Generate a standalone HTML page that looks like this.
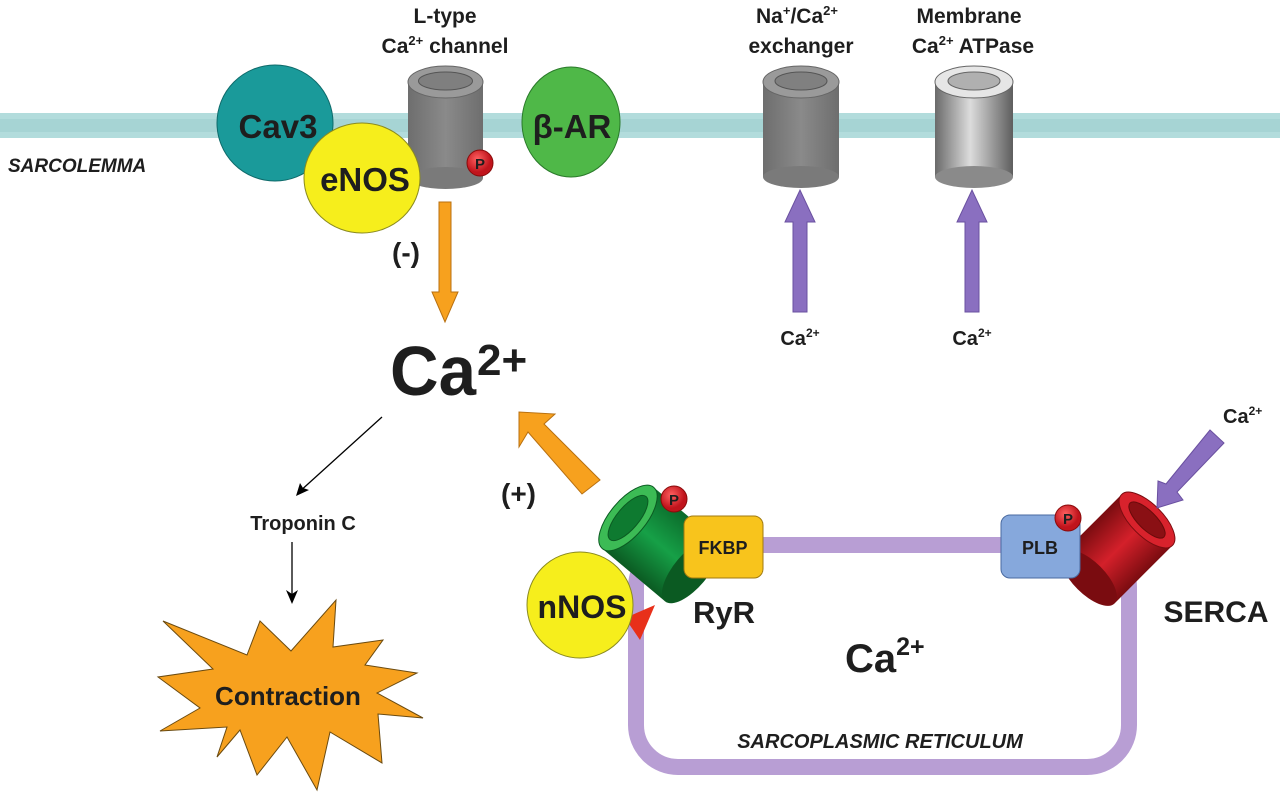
<!DOCTYPE html>
<html><head><meta charset="utf-8"><style>html,body{margin:0;padding:0;background:#fff}svg{display:block}text{font-family:"Liberation Sans",Arial,sans-serif;font-weight:bold;fill:#1e1e1e}</style></head><body>
<svg width="1280" height="796" viewBox="0 0 1280 796" xmlns="http://www.w3.org/2000/svg">
<defs>
<linearGradient id="gray" x1="0" x2="1"><stop offset="0" stop-color="#6e6e6e"/><stop offset="0.5" stop-color="#8a8a8a"/><stop offset="1" stop-color="#6e6e6e"/></linearGradient>
<linearGradient id="gray2" x1="0" x2="1"><stop offset="0" stop-color="#6a6a6a"/><stop offset="0.45" stop-color="#dcdcdc"/><stop offset="1" stop-color="#5e5e5e"/></linearGradient>
<linearGradient id="red" x1="0" y1="0" x2="0" y2="1"><stop offset="0" stop-color="#7a0c10"/><stop offset="0.5" stop-color="#d4202a"/><stop offset="1" stop-color="#7a0c10"/></linearGradient>
<linearGradient id="green" x1="0" y1="0" x2="0" y2="1"><stop offset="0" stop-color="#0b6a2a"/><stop offset="0.5" stop-color="#16a047"/><stop offset="1" stop-color="#0b5a22"/></linearGradient>
<radialGradient id="pg" cx="0.4" cy="0.35"><stop offset="0" stop-color="#ff6060"/><stop offset="1" stop-color="#c0141c"/></radialGradient>
</defs>
<rect x="0" y="113" width="1280" height="25" fill="#b2dcdc"/>
<rect x="0" y="119" width="1280" height="13" fill="#a6d4d4"/>
<text x="8" y="172" font-size="19" font-style="italic">SARCOLEMMA</text>

<circle cx="275" cy="123" r="58" fill="#1a9a9a" stroke="#0e6a6a"/>
<text x="278" y="138" font-size="33" text-anchor="middle">Cav3</text>
<rect x="408" y="82" width="75" height="96" fill="url(#gray)"/>
<ellipse cx="445.5" cy="178" rx="37.5" ry="11" fill="#7a7a7a"/>
<ellipse cx="445.5" cy="82" rx="37.5" ry="16" fill="#9a9a9a" stroke="#666"/>
<ellipse cx="445.5" cy="81" rx="27" ry="9" fill="#7f7f7f" stroke="#555"/>
<circle cx="480" cy="163" r="13" fill="url(#pg)" stroke="#8a0a0a"/>
<text x="480" y="169" font-size="15" text-anchor="middle" font-weight="normal">P</text>
<ellipse cx="362" cy="178" rx="58" ry="55" fill="#f6ee1c" stroke="#8a8a20"/>
<text x="365" y="191" font-size="33" text-anchor="middle">eNOS</text>
<ellipse cx="571" cy="122" rx="49" ry="55" fill="#4fb848" stroke="#2a7a2a"/>
<text x="572" y="138" font-size="33" text-anchor="middle">β-AR</text>
<text x="445" y="23" font-size="21" text-anchor="middle">L-type</text>
<text x="445" y="53" font-size="21" text-anchor="middle">Ca<tspan font-size="13" dy="-8">2+</tspan><tspan dy="8"> channel</tspan></text>

<rect x="763" y="82" width="76" height="95" fill="url(#gray)"/>
<ellipse cx="801" cy="177" rx="38" ry="11" fill="#7a7a7a"/>
<ellipse cx="801" cy="82" rx="38" ry="16" fill="#9a9a9a" stroke="#666"/>
<ellipse cx="801" cy="81" rx="26" ry="9" fill="#808080" stroke="#555"/>
<text x="797" y="23" font-size="21" text-anchor="middle">Na<tspan font-size="13" dy="-8">+</tspan><tspan dy="8">/Ca</tspan><tspan font-size="13" dy="-8">2+</tspan></text>
<text x="801" y="53" font-size="21" text-anchor="middle">exchanger</text>
<rect x="935" y="82" width="78" height="95" fill="url(#gray2)"/>
<ellipse cx="974" cy="177" rx="39" ry="11" fill="#8a8a8a"/>
<ellipse cx="974" cy="82" rx="39" ry="16" fill="#e6e6e6" stroke="#666"/>
<ellipse cx="974" cy="81" rx="26" ry="9" fill="#b0b0b0" stroke="#666"/>
<text x="969" y="23" font-size="21" text-anchor="middle">Membrane</text>
<text x="973" y="53" font-size="21" text-anchor="middle">Ca<tspan font-size="13" dy="-8">2+</tspan><tspan dy="8"> ATPase</tspan></text>

<polygon points="793,312 807,312 807,222 815,222 800,190 785,222 793,222" fill="#8a6fc0" stroke="#6a50a0"/>
<polygon points="965,312 979,312 979,222 987,222 972,190 957,222 965,222" fill="#8a6fc0" stroke="#6a50a0"/>
<text x="800" y="345" font-size="20" text-anchor="middle">Ca<tspan font-size="12" dy="-8">2+</tspan></text>
<text x="972" y="345" font-size="20" text-anchor="middle">Ca<tspan font-size="12" dy="-8">2+</tspan></text>

<polygon points="439,202 451,202 451,292 458,292 445,322 432,292 439,292" fill="#f7a11e" stroke="#b87010"/>
<text x="392" y="262" font-size="28">(-)</text>

<text x="390" y="395" font-size="70" textLength="86" lengthAdjust="spacingAndGlyphs">Ca</text>
<text x="477" y="375" font-size="44">2+</text>

<line x1="382" y1="417" x2="298" y2="493" stroke="#000" stroke-width="1.3"/>
<polygon points="296,496 300,483 303,488 309,490" fill="#000"/>
<text x="303" y="530" font-size="20" text-anchor="middle">Troponin C</text>
<line x1="292" y1="542" x2="292" y2="600" stroke="#000" stroke-width="1.3"/>
<polygon points="292,604 286,590 292,594 298,590" fill="#000"/>

<polygon points="163,621 247,655 260,621 291,651 336,600 333,647 383,640 365,665 417,673 377,693 423,718 378,714 382,763 330,732 317,790 287,737 257,775 240,730 217,757 227,727 160,731 200,708 158,677 213,669" fill="#f7a11e" stroke="#6a4a10" stroke-width="1"/>
<text x="288" y="705" font-size="26" text-anchor="middle">Contraction</text>

<polygon points="600,480 582,494 528,432 519,447 519,412 555,414 544,424" fill="#f7a11e" stroke="#b87010"/>
<text x="501" y="503" font-size="28">(+)</text>

<rect x="636" y="545" width="493" height="222" rx="42" fill="none" stroke="#b89ed4" stroke-width="16"/>
<text x="880" y="748" font-size="20" font-style="italic" text-anchor="middle">SARCOPLASMIC RETICULUM</text>
<text x="845" y="672" font-size="40">Ca<tspan font-size="25" dy="-17">2+</tspan></text>

<g transform="translate(628,518) rotate(40)">
<rect x="0" y="-40" width="82" height="80" fill="url(#green)"/>
<ellipse cx="82" cy="0" rx="17" ry="40" fill="#0b5a22"/>
<ellipse cx="0" cy="0" rx="18" ry="40" fill="#3cbb55" stroke="#0b5a22"/>
<ellipse cx="0" cy="0" rx="11" ry="28" fill="#0e7a30" stroke="#0b5a22"/>
</g>
<polygon points="625,618 655,605 640,640" fill="#e8301a"/>
<circle cx="580" cy="605" r="53" fill="#f6ee1c" stroke="#8a8a20"/>
<text x="582" y="618" font-size="32" text-anchor="middle">nNOS</text>
<circle cx="674" cy="499" r="13" fill="url(#pg)" stroke="#8a0a0a"/>
<text x="674" y="505" font-size="15" text-anchor="middle" font-weight="normal">P</text>
<rect x="684" y="516" width="79" height="62" rx="9" fill="#f8c41c" stroke="#a07a10"/>
<text x="723" y="554" font-size="18" text-anchor="middle">FKBP</text>
<text x="724" y="623" font-size="31" text-anchor="middle">RyR</text>

<g transform="translate(1147,520) rotate(135)">
<rect x="0" y="-36" width="82" height="72" fill="url(#red)"/>
<ellipse cx="82" cy="0" rx="16" ry="36" fill="#7a0c10"/>
<ellipse cx="0" cy="0" rx="16" ry="36" fill="#d8222c" stroke="#7a0c10"/>
<ellipse cx="0" cy="0" rx="9" ry="24" fill="#8a1014" stroke="#6a0a0a"/>
</g>
<rect x="1001" y="515" width="79" height="63" rx="9" fill="#86a8dc" stroke="#4a6aa0"/>
<text x="1040" y="554" font-size="18" text-anchor="middle">PLB</text>
<circle cx="1068" cy="518" r="13" fill="url(#pg)" stroke="#8a0a0a"/>
<text x="1068" y="524" font-size="15" text-anchor="middle" font-weight="normal">P</text>
<text x="1216" y="622" font-size="30" text-anchor="middle">SERCA</text>

<polygon points="1210,430 1224,443 1177,492 1183,500 1157,508 1158,481 1166,484" fill="#8a6fc0" stroke="#6a50a0"/>
<text x="1223" y="423" font-size="20">Ca<tspan font-size="12" dy="-8">2+</tspan></text>
</svg>
</body></html>
